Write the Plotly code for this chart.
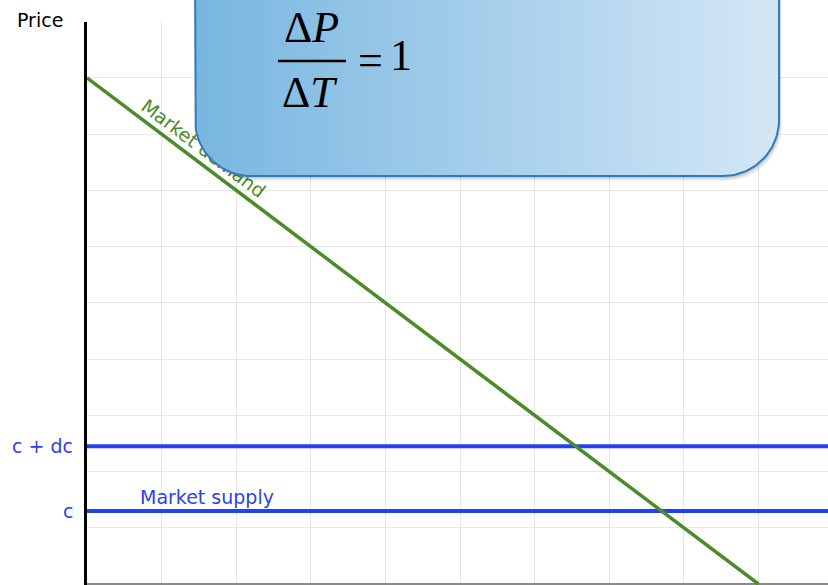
import numpy as np
import plotly.graph_objects as go

# ---------------- data ----------------
demand_q = [0, 9]          # quantity at the two ends of the demand line
demand_p = [9, 0]          # price at the two ends of the demand line
supply_q = [0, 10]         # horizontal supply lines span the whole axis
levels = [1.3, 2.45]       # c, c + dc
level_labels = ["c", "c + dc"]
demand_label = "Market demand"
supply_label = "Market supply"
axis_title = "Price"
x_range = [0, 9.933]
y_range = [-0.018, 10]

# ---------------- style ----------------
W, H = 828, 585
BLUE = "#2241f4"
BLUE_TXT = "#2a44ea"
GREEN = "#4b8b2a"
GRID = "#e7e7e7"
FONT = "DejaVu Sans"
SERIF = "Liberation Serif"

fig = go.Figure()

# supply lines
for lvl in levels:
    fig.add_trace(go.Scatter(x=supply_q, y=[lvl, lvl], mode="lines",
                             line=dict(color=BLUE, width=4),
                             hoverinfo="skip", showlegend=False))
# demand line
fig.add_trace(go.Scatter(x=demand_q, y=demand_p, mode="lines",
                         line=dict(color=GREEN, width=3.5),
                         hoverinfo="skip", showlegend=False))

# ---------------- callout box (pixel overlay subplot) ----------------
def rounded_box(x0, x1, ytop, ybot, r, n=30):
    xs, ys = [x0, x0], [ytop, ybot - r]
    t = np.linspace(np.pi, np.pi / 2, n)
    xs += list(x0 + r + r * np.cos(t)); ys += list(ybot - r + r * np.sin(t))
    t = np.linspace(np.pi / 2, 0, n)
    xs += list(x1 - r + r * np.cos(t)); ys += list(ybot - r + r * np.sin(t))
    xs += [x1, x0]; ys += [ytop, ytop]
    return np.array(xs), np.array(ys)

bx, by = rounded_box(195, 779, -30, 176, 56)
for dx, dy, a in [(1, 2, 0.10), (2, 3.5, 0.08), (3, 5, 0.06)]:
    fig.add_trace(go.Scatter(x=bx + dx, y=by + dy, xaxis="x2", yaxis="y2",
                             mode="lines", line=dict(width=0),
                             fill="toself", fillcolor=f"rgba(0,0,0,{a})",
                             hoverinfo="skip", showlegend=False))
fig.add_trace(go.Scatter(x=bx, y=by, xaxis="x2", yaxis="y2", mode="lines",
                         line=dict(color="#2f7db8", width=2),
                         fill="toself",
                         fillgradient=dict(type="horizontal",
                                           colorscale=[[0, "#78b6e0"], [1, "#d4e7f5"]]),
                         hoverinfo="skip", showlegend=False))

# ---------------- label along demand line (hidden partly by box) ----------------
q0, q1 = 0.95, 1.95
fig.add_shape(type="line", xref="x", yref="y",
              x0=q0, y0=float(np.interp(q0, demand_q, demand_p)),
              x1=q1, y1=float(np.interp(q1, demand_q, demand_p)),
              line=dict(color="rgba(0,0,0,0)", width=0), layer="between",
              label=dict(text=demand_label, textposition="middle",
                         yanchor="bottom", padding=4,
                         font=dict(family=FONT, size=19, color=GREEN)))

# fraction bar
fig.add_shape(type="line", xref="x2", yref="y2", x0=278, x1=346, y0=61, y1=61,
              line=dict(color="black", width=2.5), layer="above")

ann = []
ann.append(dict(text="Δ<i>P</i>", xref="x2", yref="y2", x=311, y=27,
                font=dict(family=SERIF, size=44, color="black")))
ann.append(dict(text="Δ<i>T</i>", xref="x2", yref="y2", x=310, y=92,
                font=dict(family=SERIF, size=44, color="black")))
ann.append(dict(text="=", xref="x2", yref="y2", x=370, y=60,
                font=dict(family=SERIF, size=44, color="black")))
ann.append(dict(text="1", xref="x2", yref="y2", x=401, y=55,
                font=dict(family=SERIF, size=44, color="black")))
ann.append(dict(text=axis_title, xref="x2", yref="y2", x=15, y=20,
                xanchor="left", font=dict(family=FONT, size=19, color="black")))
for lvl, lab in zip(levels, level_labels):
    ann.append(dict(text=lab, xref="x2", yref="y", x=75, y=lvl, xanchor="right",
                    font=dict(family=FONT, size=19, color=BLUE_TXT)))
ann.append(dict(text=supply_label, xref="x2", yref="y", x=138, y=levels[0],
                xanchor="left", yshift=14,
                font=dict(family=FONT, size=19, color=BLUE_TXT)))
for a in ann:
    a["showarrow"] = False
    a.setdefault("xanchor", "center")
    a.setdefault("yanchor", "middle")

fig.update_layout(
    width=W, height=H, autosize=False,
    margin=dict(l=0, r=0, t=0, b=0, pad=0),
    paper_bgcolor="white", plot_bgcolor="rgba(0,0,0,0)",
    showlegend=False, annotations=ann, hovermode=False,
    xaxis=dict(domain=[87 / W, 1], range=x_range, dtick=1, tick0=0,
               showgrid=True, gridcolor=GRID, gridwidth=1, zeroline=False,
               showline=False, showticklabels=False, ticks="", fixedrange=True),
    yaxis=dict(domain=[0, 1 - 21.7 / H], range=y_range, dtick=1, tick0=0,
               showgrid=True, gridcolor=GRID, gridwidth=1,
               zeroline=True, zerolinecolor="#8a8a8a", zerolinewidth=1.5,
               showline=True, linecolor="black", linewidth=3,
               showticklabels=False, ticks="", fixedrange=True),
    xaxis2=dict(domain=[0, 1], range=[0, W], visible=False, anchor="y2",
                fixedrange=True),
    yaxis2=dict(domain=[0, 1], range=[H, 0], visible=False, anchor="x2",
                fixedrange=True),
)

fig.write_html("out.html",
               config={"displayModeBar": False, "staticPlot": True},
               post_script="document.body.style.margin='0px';"
                           "document.body.style.overflow='hidden';")
